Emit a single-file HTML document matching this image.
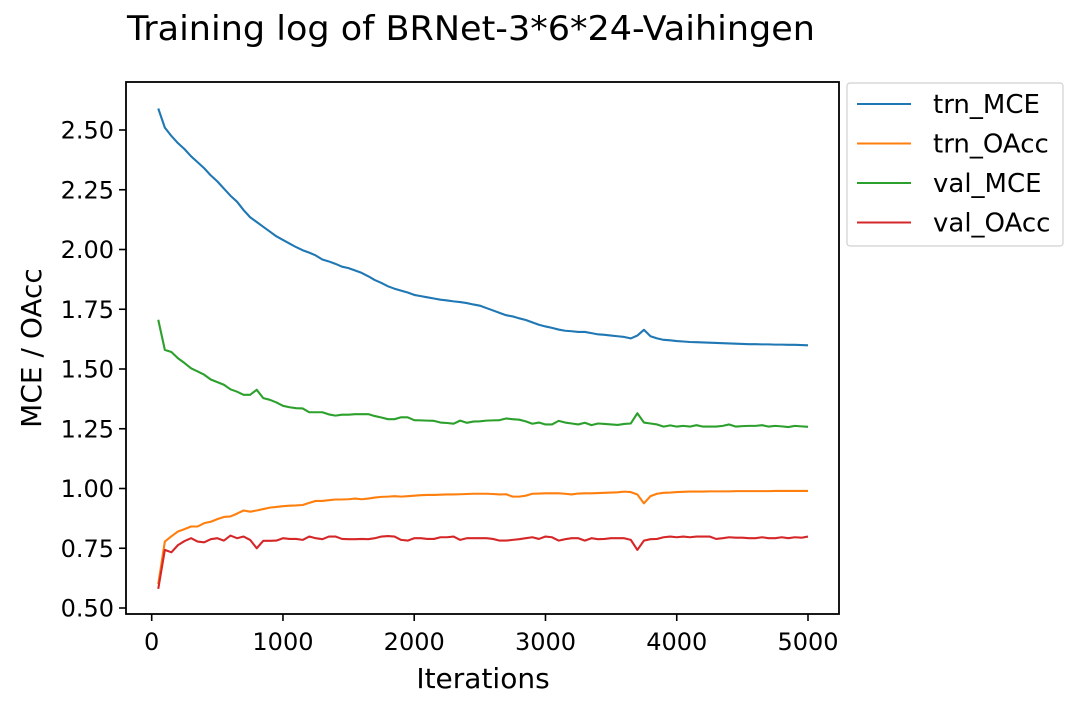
<!DOCTYPE html>
<html><head><meta charset="utf-8"><style>
body{margin:0;background:#fff;}
svg{display:block;font-family:"DejaVu Sans","Liberation Sans",sans-serif;}
</style></head><body>
<svg id="chart" width="1076" height="708" viewBox="0 0 1076 708" xmlns="http://www.w3.org/2000/svg">
<rect width="1076" height="708" fill="#fff"/>
<text x="127" y="40" font-size="34" fill="#000" textLength="688" lengthAdjust="spacingAndGlyphs">Training log of BRNet-3*6*24-Vaihingen</text>
<g id="series"></g>
<rect x="126" y="82" width="713" height="532" fill="none" stroke="#000" stroke-width="1.8"/>
<g id="xticks"></g>
<g id="yticks"></g>
<text x="483" y="688" font-size="28" text-anchor="middle">Iterations</text>
<text transform="translate(41,348) rotate(-90)" font-size="28" text-anchor="middle">MCE / OAcc</text>
<g>
<rect x="847" y="83" width="216" height="163" rx="3" fill="#fff" stroke="#d0d0d0" stroke-width="1.2"/>
<g id="legend"></g>
</g>
</svg>
<script>
const iterations = [];
for (let i = 1; i <= 100; i++) iterations.push(i * 50);
const trnMCE = [2.59,2.51,2.475,2.445,2.42,2.39,2.365,2.34,2.31,2.285,2.255,2.225,2.20,2.165,2.135,2.115,2.095,2.075,2.055,2.04,2.025,2.01,1.997,1.987,1.975,1.958,1.95,1.94,1.928,1.922,1.912,1.902,1.888,1.872,1.86,1.846,1.836,1.828,1.82,1.81,1.805,1.8,1.795,1.79,1.787,1.783,1.78,1.776,1.77,1.765,1.755,1.745,1.735,1.725,1.72,1.712,1.705,1.695,1.685,1.678,1.672,1.665,1.66,1.658,1.655,1.655,1.65,1.645,1.643,1.64,1.637,1.634,1.628,1.64,1.664,1.637,1.628,1.622,1.62,1.617,1.615,1.613,1.612,1.611,1.61,1.609,1.608,1.607,1.606,1.605,1.604,1.604,1.603,1.603,1.602,1.602,1.601,1.601,1.6,1.599];
const trnOAcc = [0.60,0.778,0.80,0.82,0.83,0.841,0.841,0.855,0.861,0.872,0.881,0.883,0.895,0.908,0.903,0.908,0.914,0.92,0.923,0.926,0.928,0.929,0.931,0.94,0.948,0.948,0.951,0.954,0.954,0.955,0.958,0.955,0.958,0.962,0.965,0.966,0.968,0.966,0.968,0.970,0.972,0.973,0.973,0.974,0.975,0.975,0.976,0.977,0.978,0.978,0.978,0.977,0.975,0.976,0.966,0.966,0.97,0.978,0.979,0.98,0.98,0.98,0.978,0.975,0.979,0.98,0.98,0.981,0.982,0.983,0.984,0.987,0.985,0.975,0.938,0.968,0.978,0.982,0.983,0.985,0.986,0.987,0.987,0.987,0.988,0.988,0.988,0.988,0.989,0.989,0.989,0.989,0.989,0.989,0.99,0.99,0.99,0.99,0.99,0.99];
const valMCE = [1.706,1.58,1.571,1.545,1.525,1.503,1.49,1.476,1.456,1.445,1.434,1.415,1.405,1.392,1.392,1.413,1.378,1.371,1.36,1.346,1.34,1.336,1.335,1.319,1.319,1.319,1.31,1.305,1.309,1.309,1.311,1.311,1.311,1.303,1.297,1.29,1.29,1.298,1.298,1.286,1.285,1.284,1.283,1.276,1.274,1.271,1.284,1.275,1.28,1.281,1.284,1.285,1.286,1.293,1.29,1.288,1.281,1.271,1.276,1.268,1.268,1.283,1.276,1.272,1.268,1.275,1.265,1.272,1.27,1.268,1.266,1.27,1.272,1.315,1.276,1.272,1.268,1.259,1.264,1.259,1.262,1.259,1.265,1.259,1.259,1.259,1.262,1.268,1.259,1.261,1.262,1.262,1.265,1.259,1.262,1.26,1.257,1.262,1.26,1.258];
const valOAcc = [0.58,0.743,0.733,0.763,0.78,0.792,0.778,0.775,0.788,0.792,0.782,0.803,0.792,0.799,0.785,0.75,0.781,0.781,0.782,0.792,0.789,0.789,0.785,0.799,0.792,0.788,0.799,0.799,0.789,0.788,0.788,0.789,0.788,0.792,0.799,0.801,0.799,0.785,0.782,0.792,0.792,0.789,0.789,0.796,0.796,0.799,0.785,0.792,0.792,0.792,0.792,0.789,0.782,0.782,0.785,0.788,0.792,0.796,0.789,0.799,0.796,0.782,0.788,0.792,0.792,0.782,0.792,0.788,0.789,0.792,0.792,0.792,0.785,0.743,0.782,0.788,0.789,0.796,0.799,0.796,0.799,0.796,0.799,0.799,0.799,0.789,0.792,0.796,0.794,0.794,0.792,0.792,0.796,0.792,0.792,0.796,0.792,0.796,0.794,0.799];
const xTicks = [0,1000,2000,3000,4000,5000];
const yTicks = [0.5,0.75,1.0,1.25,1.5,1.75,2.0,2.25,2.5];
const seriesNames = ["trn_MCE","trn_OAcc","val_MCE","val_OAcc"];

const colors = ["#1f77b4","#ff7f0e","#2ca02c","#d62728"];
const allSeries = [trnMCE, trnOAcc, valMCE, valOAcc];
const NS = "http://www.w3.org/2000/svg";
function xs(v){ return 151.7 + v * 0.13126; }
function ys(v){ return 130 + (2.5 - v) * 239; }
function mk(tag, attrs, parent){ const e=document.createElementNS(NS,tag); for(const k in attrs) e.setAttribute(k,attrs[k]); parent.appendChild(e); return e; }

const sg = document.getElementById('series');
allSeries.forEach((arr, si) => {
  const pts = arr.map((v,i)=>xs(iterations[i]).toFixed(2)+','+ys(v).toFixed(2)).join(' ');
  const pl = mk('polyline',{points:pts,fill:'none',stroke:colors[si],'stroke-width':2.1,'stroke-linejoin':'round'},sg);
  
  
});

const xg = document.getElementById('xticks');
xTicks.forEach(t => {
  const x = xs(t);
  const l = mk('line',{x1:x,x2:x,y1:614,y2:621,stroke:'#000','stroke-width':1.6},xg);
  
  
  const tx = mk('text',{x:x,y:650,'font-size':24,'text-anchor':'middle'},xg);
  tx.textContent = String(t);
  
  
});
const yg = document.getElementById('yticks');
yTicks.forEach(t => {
  const y = ys(t);
  const l = mk('line',{x1:119,x2:126,y1:y,y2:y,stroke:'#000','stroke-width':1.6},yg);
  
  
  const tx = mk('text',{x:114,y:y+8.5,'font-size':24,'text-anchor':'end'},yg);
  tx.textContent = t.toFixed(2);
  
  
});
const lg = document.getElementById('legend');
seriesNames.forEach((n, i) => {
  const y = 104 + i * 39.5;
  const l = mk('line',{x1:857,x2:911,y1:y,y2:y,stroke:colors[i],'stroke-width':2.1},lg);
  
  
  const tx = mk('text',{x:933,y:y+9,'font-size':26},lg);
  tx.textContent = n;
  
  
});
</script>
</body></html>
